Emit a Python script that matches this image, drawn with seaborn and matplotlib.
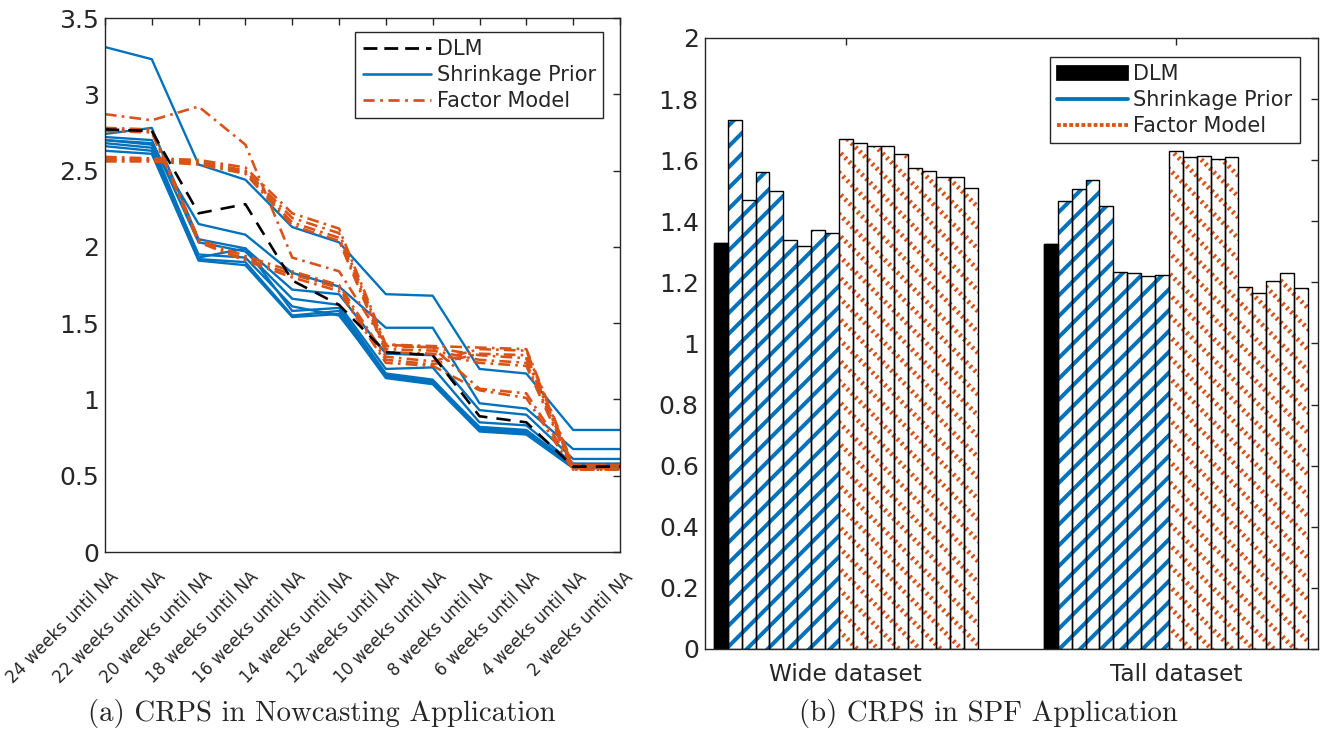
import numpy as np
import pandas as pd
import matplotlib
matplotlib.use("Agg")
import matplotlib.pyplot as plt
from matplotlib.lines import Line2D
from matplotlib.patches import Patch
from matplotlib.ticker import FuncFormatter
from matplotlib.transforms import ScaledTranslation
import seaborn as sns

# ---------------- data: (a) nowcasting CRPS ----------------
weeks = ["24 weeks until NA", "22 weeks until NA", "20 weeks until NA",
         "18 weeks until NA", "16 weeks until NA", "14 weeks until NA",
         "12 weeks until NA", "10 weeks until NA", "8 weeks until NA",
         "6 weeks until NA", "4 weeks until NA", "2 weeks until NA"]

dlm_now = [2.77, 2.76, 2.22, 2.28, 1.78, 1.62, 1.31, 1.29, 0.89, 0.85, 0.56, 0.56]

shrink_now_1 = [3.31, 3.23, 2.54, 2.44, 2.13, 2.03, 1.69, 1.68, 1.20, 1.17, 0.80, 0.80]
shrink_now_2 = [2.70, 2.67, 2.15, 2.08, 1.83, 1.74, 1.47, 1.47, 0.975, 0.94, 0.675, 0.675]
shrink_now_3 = [2.74, 2.78, 2.05, 1.99, 1.72, 1.69, 1.30, 1.29, 0.93, 0.90, 0.61, 0.61]
shrink_now_4 = [2.72, 2.70, 2.03, 1.97, 1.66, 1.62, 1.20, 1.21, 0.85, 0.83, 0.58, 0.58]
shrink_now_5 = [2.70, 2.68, 1.93, 1.99, 1.58, 1.60, 1.17, 1.13, 0.81, 0.79, 0.57, 0.57]
shrink_now_6 = [2.66, 2.63, 1.92, 1.90, 1.55, 1.58, 1.15, 1.11, 0.80, 0.78, 0.56, 0.56]
shrink_now_7 = [2.63, 2.61, 1.91, 1.88, 1.54, 1.56, 1.14, 1.10, 0.79, 0.77, 0.55, 0.55]
shrink_now_8 = [2.68, 2.65, 1.95, 1.93, 1.61, 1.55, 1.16, 1.12, 0.82, 0.80, 0.57, 0.57]

factor_now_1 = [2.87, 2.83, 2.92, 2.67, 1.93, 1.84, 1.36, 1.34, 1.07, 1.04, 0.57, 0.57]
factor_now_2 = [2.78, 2.77, 2.05, 1.94, 1.84, 1.75, 1.28, 1.25, 1.33, 1.32, 0.56, 0.56]
factor_now_3 = [2.77, 2.76, 2.04, 1.92, 1.82, 1.73, 1.26, 1.23, 1.30, 1.29, 0.55, 0.55]
factor_now_4 = [2.76, 2.75, 2.03, 1.91, 1.80, 1.71, 1.24, 1.22, 1.06, 1.01, 0.54, 0.54]
factor_now_5 = [2.59, 2.58, 2.57, 2.52, 2.22, 2.12, 1.36, 1.35, 1.34, 1.33, 0.57, 0.57]
factor_now_6 = [2.58, 2.57, 2.56, 2.50, 2.19, 2.09, 1.35, 1.34, 1.29, 1.27, 0.56, 0.56]
factor_now_7 = [2.57, 2.57, 2.55, 2.49, 2.16, 2.06, 1.33, 1.32, 1.26, 1.24, 0.55, 0.55]
factor_now_8 = [2.56, 2.56, 2.54, 2.48, 2.14, 2.04, 1.31, 1.30, 1.24, 1.22, 0.54, 0.54]

shrink_now = [shrink_now_1, shrink_now_2, shrink_now_3, shrink_now_4,
              shrink_now_5, shrink_now_6, shrink_now_7, shrink_now_8]
factor_now = [factor_now_1, factor_now_2, factor_now_3, factor_now_4,
              factor_now_5, factor_now_6, factor_now_7, factor_now_8]

# ---------------- data: (b) SPF CRPS ----------------
datasets = ["Wide dataset", "Tall dataset"]
dlm_spf = [1.33, 1.325]
shrink_wide = [1.73, 1.47, 1.56, 1.50, 1.34, 1.32, 1.37, 1.36]
shrink_tall = [1.465, 1.505, 1.535, 1.45, 1.235, 1.23, 1.22, 1.225]
factor_wide = [1.67, 1.655, 1.645, 1.645, 1.62, 1.575, 1.565, 1.545, 1.545, 1.51]
factor_tall = [1.63, 1.61, 1.615, 1.605, 1.61, 1.185, 1.165, 1.205, 1.23, 1.18]

legend_labels = ["DLM", "Shrinkage Prior", "Factor Model"]
caption_a = "(a) CRPS in Nowcasting Application"
caption_b = "(b) CRPS in SPF Application"

# ---------------- style ----------------
BLUE = "#0072BD"
ORANGE = "#D95319"
AXC = "#262626"

sns.set_theme(style="white")
plt.rcParams["font.family"] = ["DejaVu Sans"]
plt.rcParams["hatch.linewidth"] = 2.0
plt.rcParams["axes.edgecolor"] = AXC
plt.rcParams["axes.linewidth"] = 0.8

fig = plt.figure(figsize=(10.6, 5.864), dpi=125)
axL = fig.add_axes([0.0792, 0.2469, 0.3887, 0.7285])
axR = fig.add_axes([0.532, 0.1146, 0.4626, 0.8336])

# ---------------- (a) lines ----------------
xpos = np.arange(len(weeks))
for s in shrink_now:
    sns.lineplot(x=xpos, y=s, ax=axL, color=BLUE, linewidth=1.35,
                 errorbar=None, legend=False)
for s in factor_now:
    sns.lineplot(x=xpos, y=s, ax=axL, color=ORANGE, linewidth=1.5,
                 linestyle=(0, (4.5, 2.0, 1.0, 2.0)), errorbar=None, legend=False)
sns.lineplot(x=xpos, y=dlm_now, ax=axL, color="black", linewidth=1.5,
             linestyle=(0, (5.5, 3.5)), errorbar=None, legend=False)

axL.set_xlim(0, len(weeks) - 1)
axL.set_ylim(0, 3.5)
axL.set_xticks(xpos)
axL.set_xticklabels(weeks, rotation=45, ha="right", fontsize=9.6)
axL.set_yticks(np.arange(0, 3.51, 0.5))
fmt = FuncFormatter(lambda v, p: f"{v:g}")
axL.yaxis.set_major_formatter(fmt)
axL.tick_params(axis="y", labelsize=14.5)

hL = [Line2D([0], [0], color="black", lw=1.6, linestyle=(0, (5, 2.5))),
      Line2D([0], [0], color=BLUE, lw=1.5),
      Line2D([0], [0], color=ORANGE, lw=1.6, linestyle=(0, (4, 2, 1, 2)))]
legL = axL.legend(hL, legend_labels, loc="upper right",
                  bbox_to_anchor=(0.967, 0.974), borderaxespad=0,
                  fontsize=12, handlelength=3.3, handletextpad=0.25,
                  labelspacing=0.28, borderpad=0.35, fancybox=False,
                  framealpha=1, edgecolor=AXC)
legL.get_frame().set_linewidth(0.8)

# ---------------- (b) bars ----------------
order = [f"m{i:02d}" for i in range(19)]
wide_all = [dlm_spf[0]] + shrink_wide + factor_wide
tall_all = [dlm_spf[1]] + shrink_tall + factor_tall
rows = []
for ds, vals in zip(datasets, [wide_all, tall_all]):
    for m, v in zip(order, vals):
        rows.append({"dataset": ds, "model": m, "value": v})
df = pd.DataFrame(rows)
pal = {m: "white" for m in order}

common = dict(data=df, x="dataset", y="value", hue="model", order=datasets,
              hue_order=order, palette=pal, width=0.8, gap=0, dodge=True,
              saturation=1, errorbar=None, legend=False, ax=axR)


def hatch_lw(bar, lw):
    if hasattr(bar, "set_hatch_linewidth"):
        bar.set_hatch_linewidth(lw)


# layer 1: fill + hatch
sns.barplot(**common)
n0 = len(axR.containers)
for i, cont in enumerate(axR.containers[:n0]):
    for bar in cont:
        if i == 0:
            bar.set_facecolor("black")
            bar.set_edgecolor("black")
            bar.set_linewidth(0.8)
        elif i <= 8:
            bar.set_facecolor("white")
            bar.set_edgecolor(BLUE)
            bar.set_hatch("//")
            bar.set_linewidth(0)
            hatch_lw(bar, 2.3)
        else:
            bar.set_facecolor("white")
            bar.set_edgecolor(ORANGE)
            bar.set_hatch("\\\\")
            bar.set_linewidth(0)
            hatch_lw(bar, 2.8)

# layer 2: white cross-hatch that chops the orange lines into dots
sns.barplot(**common)
n1 = len(axR.containers)
for i, cont in enumerate(axR.containers[n0:n1]):
    for bar in cont:
        if i >= 9:
            bar.set_facecolor("none")
            bar.set_edgecolor("white")
            bar.set_hatch("/////")
            bar.set_linewidth(0)
            hatch_lw(bar, 2.0)
        else:
            bar.set_visible(False)

# layer 3: black outlines
sns.barplot(**common)
for i, cont in enumerate(axR.containers[n1:]):
    for bar in cont:
        bar.set_facecolor("none")
        bar.set_edgecolor("black")
        bar.set_linewidth(0.8)

axR.set_xlim(-0.427, 1.43)
axR.set_ylim(0, 2)
axR.set_yticks(np.arange(0, 2.01, 0.2))
axR.yaxis.set_major_formatter(fmt)
axR.set_xlabel("")
axR.set_ylabel("")
axR.tick_params(axis="x", labelsize=13.3, pad=8)
axR.tick_params(axis="y", labelsize=14.5)

hR = [Patch(facecolor="black", edgecolor="black"),
      Line2D([0], [0], color=BLUE, lw=2.2),
      Line2D([0], [0], color=ORANGE, lw=2.2, linestyle=(0, (1, 0.6)))]
legR = axR.legend(hR, legend_labels, loc="upper right",
                  bbox_to_anchor=(0.9706, 0.969), borderaxespad=0,
                  fontsize=12, handlelength=3.4, handletextpad=0.25,
                  labelspacing=0.28, borderpad=0.35, fancybox=False,
                  framealpha=1, edgecolor=AXC)
legR.get_frame().set_linewidth(0.8)

for ax in (axL, axR):
    for sp in ax.spines.values():
        sp.set_visible(True)
        sp.set_color(AXC)
        sp.set_linewidth(0.8)
    ax.tick_params(direction="in", length=4, width=0.8, top=True, right=True,
                   colors=AXC, labelcolor=AXC)
    ax.grid(False)

# shift the rotated week labels (after tick_params, which resets transforms)
offset = ScaledTranslation(17 / 125, -10 / 125, fig.dpi_scale_trans)
for lab in axL.get_xticklabels():
    lab.set_transform(lab.get_transform() + offset)

fig.text(0.243, 0.016, caption_a, ha="center", va="baseline",
         fontsize=16.6, family="cmr10")
fig.text(0.746, 0.016, caption_b, ha="center", va="baseline",
         fontsize=16.6, family="cmr10")

fig.savefig("out.png", dpi=125)
